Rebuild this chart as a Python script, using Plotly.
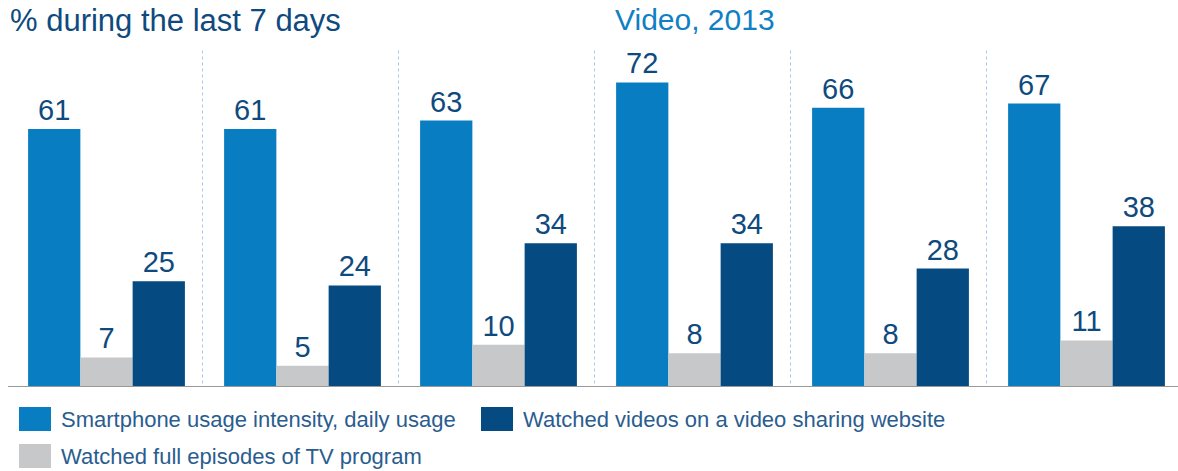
import plotly.graph_objects as go

groups = [0, 1, 2, 3, 4, 5]
series_names = [
    "Smartphone usage intensity, daily usage",
    "Watched full episodes of TV program",
    "Watched videos on a video sharing website",
]
smartphone = [61, 61, 63, 72, 66, 67]
tv_episodes = [7, 5, 10, 8, 8, 11]
video_sharing = [25, 24, 34, 34, 28, 38]
series_values = [smartphone, tv_episodes, video_sharing]
colors = ["#087dc2", "#c7c8ca", "#054a80"]

W, H = 1178, 471
base_px = 387          # pixel row of y=0
px_per_unit = 4.23
label_color = "#0f4a7e"
font_family = "Liberation Sans, Arial, sans-serif"

fig = go.Figure()
for name, vals, col in zip(series_names, series_values, colors):
    fig.add_trace(go.Bar(
        x=groups, y=vals, name=name, marker=dict(color=col, line=dict(width=0)),
        text=vals, texttemplate="%{text}", textposition="outside",
        textfont=dict(size=29, color=label_color, family=font_family),
        cliponaxis=False, showlegend=False,
    ))

# x scale: group centre pixel = 106.5 + 196*g
x0 = -106.5 / 196
x1 = (W - 106.5) / 196
ymax = base_px / px_per_unit

fig.update_layout(
    width=W, height=H,
    margin=dict(l=0, r=0, t=0, b=0),
    paper_bgcolor="white", plot_bgcolor="white",
    barmode="group", bargap=0.2, bargroupgap=0,
    xaxis=dict(range=[x0, x1], visible=False, fixedrange=True),
    yaxis=dict(range=[0, ymax], domain=[(H - base_px) / H, 1], visible=False, fixedrange=True),
    font=dict(family=font_family),
)

# group separators (dotted)
for g in groups[:-1]:
    fig.add_shape(type="line", xref="x", yref="y", x0=g + 0.49, x1=g + 0.49, y0=-2, y1=80,
                  line=dict(color="#a9c8e6", width=1, dash="dot"), layer="below")

# baseline
fig.add_shape(type="line", xref="paper", yref="y", x0=8 / W, x1=1, y0=0, y1=0,
              line=dict(color="#9a9a9a", width=2))

# titles
fig.add_annotation(text="% during the last 7 days", xref="paper", yref="paper",
                   x=8 / W, y=1 - 21 / H, xanchor="left", yanchor="middle", showarrow=False,
                   font=dict(size=31, color="#0f4a7e", family=font_family))
fig.add_annotation(text="Video, 2013", xref="paper", yref="paper",
                   x=695 / W, y=1 - 20 / H, xanchor="center", yanchor="middle", showarrow=False,
                   font=dict(size=30, color="#1080c4", family=font_family))

# manual legend (large swatches)
legend_pos = [(19, 419), (19, 456), (481, 419)]
for name, col, (lx, ly) in zip(series_names, colors, legend_pos):
    fig.add_shape(type="rect", xref="paper", yref="paper",
                  x0=lx / W, x1=(lx + 32) / W, y0=1 - (ly + 12) / H, y1=1 - (ly - 12) / H,
                  fillcolor=col, line=dict(width=0))
    fig.add_annotation(text=name, xref="paper", yref="paper",
                       x=(lx + 40) / W, y=1 - ly / H, xanchor="left", yanchor="middle",
                       showarrow=False, font=dict(size=22, color="#2a5d8f", family=font_family))

fig.write_html("out.html")
